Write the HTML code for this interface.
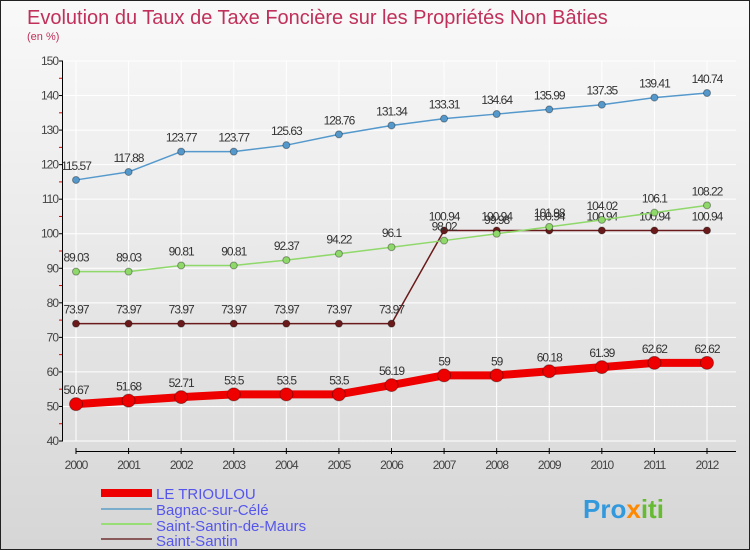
<!DOCTYPE html>
<html><head><meta charset="utf-8"><style>
body{margin:0}
#c{width:750px;height:550px;position:relative;background:linear-gradient(#f9f9f9,#d6d6d6);border:1px solid #222;box-sizing:border-box;overflow:hidden;font-family:"Liberation Sans",sans-serif}
</style></head><body>
<div id="c">
<svg id="s" width="750" height="550" style="position:absolute;left:0;top:0">
<text x="26" y="23" font-size="20" fill="#c0305a">Evolution du Taux de Taxe Foncière sur les Propriétés Non Bâties</text>
<text x="26" y="39" font-size="11" fill="#c0305a">(en %)</text>
<g id="grid"></g><g id="axes"></g><g id="series"></g>
<g>
<rect x="100" y="488" width="51" height="8" fill="#e00"/>
<text x="155" y="498" font-size="15" fill="#5555ee">LE TRIOULOU</text>
<rect x="100" y="507" width="51" height="2" fill="#7aaccc"/>
<text x="155" y="514" font-size="15" fill="#5555ee">Bagnac-sur-Célé</text>
<rect x="100" y="522" width="51" height="2" fill="#99dd77"/>
<text x="155" y="530" font-size="15" fill="#5555ee">Saint-Santin-de-Maurs</text>
<rect x="100" y="537" width="51" height="2" fill="#8a5a5a"/>
<text x="155" y="545" font-size="15" fill="#5555ee">Saint-Santin</text>
</g>
<text x="582" y="517" font-size="26" font-weight="bold" fill="#3399dd">Pro<tspan fill="#ff8800">x</tspan><tspan fill="#66bb33">iti</tspan></text>
</svg>
</div>
<script>
const years=[2000,2001,2002,2003,2004,2005,2006,2007,2008,2009,2010,2011,2012];
const yTicks=[40,50,60,70,80,90,100,110,120,130,140,150];
const trioulou=[50.67,51.68,52.71,53.5,53.5,53.5,56.19,59,59,60.18,61.39,62.62,62.62];
const bagnac=[115.57,117.88,123.77,123.77,125.63,128.76,131.34,133.31,134.64,135.99,137.35,139.41,140.74];
const maurs=[89.03,89.03,90.81,90.81,92.37,94.22,96.1,98.02,99.98,101.98,104.02,106.1,108.22];
const santin=[73.97,73.97,73.97,73.97,73.97,73.97,73.97,100.94,100.94,100.94,100.94,100.94,100.94];
const NS="http://www.w3.org/2000/svg";
const X=i=>75+i*(706-75)/(years.length-1);
const Y=v=>440-(v-40)*380/110;
function mk(t,a,p,n){const e=document.createElementNS(NS,t);for(const k in a)e.setAttribute(k,a[k]);p.appendChild(e);return e;}
const g=document.getElementById('grid'),ax=document.getElementById('axes'),se=document.getElementById('series');
yTicks.forEach(v=>{
 mk('line',{x1:62,x2:735,y1:Y(v),y2:Y(v),stroke:'#fff','stroke-width':1},g,'gridline-y');
 mk('line',{x1:58,x2:62,y1:Y(v),y2:Y(v),stroke:'#000'},ax,'y-tick');
 const t=mk('text',{x:57,y:Y(v)+4,'font-size':12,'text-anchor':'end',fill:'#444','letter-spacing':'-1'},ax,'y-tick-label');t.textContent=v;
 if(v<150)mk('line',{x1:58,x2:61,y1:Y(v+5),y2:Y(v+5),stroke:'#e00'},ax,'y-minor-tick');
});
years.forEach((yr,i)=>{
 mk('line',{x1:X(i),x2:X(i),y1:60,y2:440,stroke:'#fff'},g,'gridline-x');
 mk('line',{x1:X(i),x2:X(i),y1:447,y2:453,stroke:'#000'},ax,'x-tick');
 const t=mk('text',{x:X(i),y:468,'font-size':12,'text-anchor':'middle',fill:'#444','letter-spacing':'-1'},ax,'x-tick-label');t.textContent=yr;
});
mk('line',{x1:61.5,x2:61.5,y1:60,y2:440,stroke:'#000'},ax,'y-axis');
mk('line',{x1:75,x2:735,y1:450.5,y2:450.5,stroke:'#000'},ax,'x-axis');
function series(d,col,w,r,n,lab){
 mk('polyline',{points:d.map((v,i)=>X(i)+','+Y(v)).join(' '),fill:'none',stroke:col,'stroke-width':w,'stroke-linejoin':'round'},se,n+'-line');
 d.forEach((v,i)=>{
  mk('circle',{cx:X(i),cy:Y(v),r:r,fill:col,stroke:'rgba(0,0,0,0.35)','stroke-width':1},se,n+'-point');
  const t=mk('text',{x:X(i),y:Y(v)-10,'font-size':12,'text-anchor':'middle',fill:'#333','letter-spacing':'-1'},se,n+'-value-label');t.textContent=v;
 });
}
series(santin,'#6a1a1a',1.5,3.5,'saint-santin');
series(maurs,'#8fd86a',1.5,3.5,'saint-santin-de-maurs');
series(bagnac,'#5599cc',1.5,3.5,'bagnac');
series(trioulou,'#ee0000',8,6.5,'le-trioulou');
</script>
</body></html>
